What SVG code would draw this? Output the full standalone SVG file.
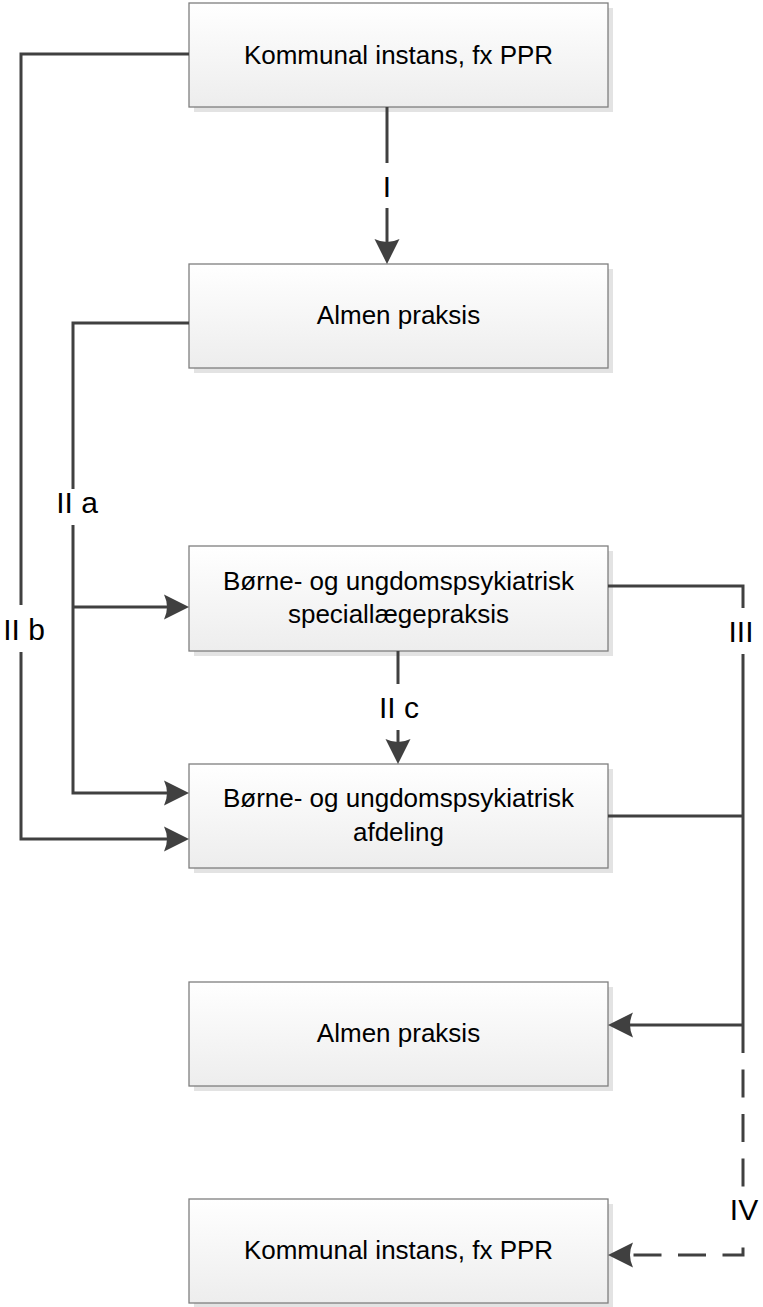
<svg xmlns="http://www.w3.org/2000/svg" width="763" height="1307" viewBox="0 0 763 1307">
<style>
.box{fill:url(#g);stroke:#7f7f7f;stroke-width:1.3}
.sh{fill:#e3e3e3}
.t{font-family:"Liberation Sans",Arial,sans-serif;font-size:26px;fill:#000;text-anchor:middle}
.lbl{font-family:"Liberation Sans",Arial,sans-serif;font-size:30px;fill:#000;text-anchor:middle}
.c{fill:none;stroke:#404040;stroke-width:3}
.d{stroke-dasharray:28 16.5}
.bg{fill:#fff}
</style>
<defs>
<linearGradient id="g" x1="0" y1="0" x2="0" y2="1">
<stop offset="0" stop-color="#ffffff"/>
<stop offset="1" stop-color="#ededed"/>
</linearGradient>
<marker id="ah" markerUnits="userSpaceOnUse" markerWidth="30" markerHeight="30" viewBox="0 -15 30 30" refX="8" refY="0" orient="auto">
<path d="M25,0 L0,-12.5 Q6,0 0,12.5 Z" fill="#404040"/>
</marker>
</defs>

<g id="n1">
<rect class="sh" x="194" y="8" width="419" height="104"/>
<rect class="box" x="189" y="3" width="419" height="104"/>
<text class="t" x="398.5" y="64">Kommunal instans, fx PPR</text>
</g>
<g id="n2">
<rect class="sh" x="194" y="269" width="419" height="104"/>
<rect class="box" x="189" y="264" width="419" height="104"/>
<text class="t" x="398.5" y="324">Almen praksis</text>
</g>
<g id="n3">
<rect class="sh" x="194" y="551" width="419" height="105"/>
<rect class="box" x="189" y="546" width="419" height="105"/>
<text class="t" x="398.5" y="590">Børne- og ungdomspsykiatrisk</text>
<text class="t" x="398.5" y="623">speciallægepraksis</text>
</g>
<g id="n4">
<rect class="sh" x="194" y="769" width="419" height="104"/>
<rect class="box" x="189" y="764" width="419" height="104"/>
<text class="t" x="398.5" y="807">Børne- og ungdomspsykiatrisk</text>
<text class="t" x="398.5" y="841">afdeling</text>
</g>
<g id="n5">
<rect class="sh" x="194" y="987" width="419" height="104"/>
<rect class="box" x="189" y="982" width="419" height="104"/>
<text class="t" x="398.5" y="1042">Almen praksis</text>
</g>
<g id="n6">
<rect class="sh" x="194" y="1204" width="419" height="104"/>
<rect class="box" x="189" y="1199" width="419" height="104"/>
<text class="t" x="398.5" y="1259">Kommunal instans, fx PPR</text>
</g>

<g id="connectors">
<path class="c" d="M387,107 V247" marker-end="url(#ah)"/>
<path class="c" d="M189,323 H73 V793 H172" marker-end="url(#ah)"/>
<path class="c" d="M73,607 H172" marker-end="url(#ah)"/>
<path class="c" d="M189,54 H21 V839 H172" marker-end="url(#ah)"/>
<path class="c" d="M398,651 V747" marker-end="url(#ah)"/>
<path class="c" d="M608,586 H743 V1025"/>
<path class="c" d="M608,816 H743"/>
<path class="c" d="M743,1025 H625" marker-end="url(#ah)"/>
<path class="c d" d="M743,1025 V1255 H625" marker-end="url(#ah)"/>
<rect class="bg" x="375" y="163" width="24" height="45"/>
<text class="lbl" x="387" y="197">I</text>
<rect class="bg" x="55" y="489" width="44" height="36"/>
<text class="lbl" x="77" y="513">II a</text>
<rect class="bg" x="3" y="605" width="44" height="47"/>
<text class="lbl" x="24" y="640">II b</text>
<rect class="bg" x="377" y="684" width="44" height="46"/>
<text class="lbl" x="399" y="718">II c</text>
<rect class="bg" x="727" y="608" width="30" height="46"/>
<text class="lbl" x="741" y="642">III</text>
<rect class="bg" x="729" y="1187" width="30" height="54"/>
<text class="lbl" x="744" y="1220">IV</text>
</g>
</svg>
